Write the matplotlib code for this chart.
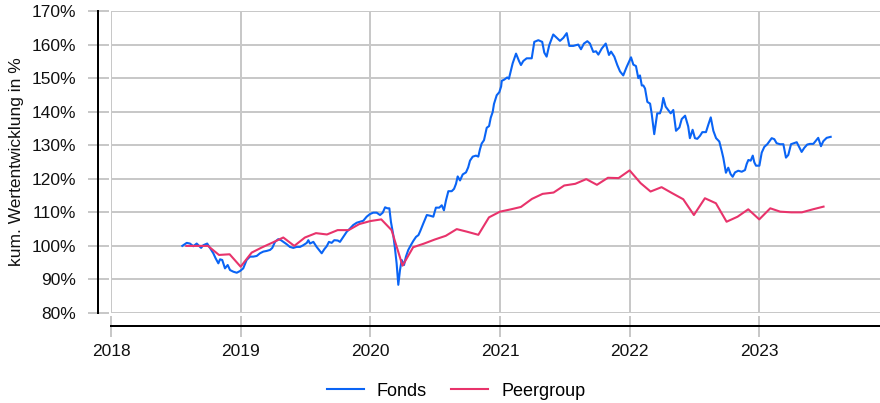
import matplotlib
matplotlib.use("Agg")
import matplotlib.pyplot as plt
import numpy as np
import pandas as pd

# Fonds: weekly-ish points, x in decimal years, values in %
fonds_t = [
    2018.550, 2018.584, 2018.609, 2018.635, 2018.661, 2018.679, 2018.695, 2018.712, 2018.742, 2018.763,
    2018.789, 2018.807, 2018.828, 2018.841, 2018.858, 2018.879, 2018.900, 2018.918, 2018.944, 2018.970,
    2018.995, 2019.020, 2019.046, 2019.072, 2019.097, 2019.124, 2019.149, 2019.175, 2019.201, 2019.227,
    2019.244, 2019.265, 2019.290, 2019.311, 2019.329, 2019.355, 2019.380, 2019.406, 2019.432, 2019.458,
    2019.483, 2019.510, 2019.522, 2019.535, 2019.561, 2019.586, 2019.604, 2019.625, 2019.645, 2019.664,
    2019.681, 2019.702, 2019.722, 2019.749,
    2019.766, 2019.792, 2019.818, 2019.844, 2019.868, 2019.895, 2019.920, 2019.946, 2019.972, 2019.998,
    2020.023, 2020.049, 2020.075, 2020.096, 2020.114, 2020.132, 2020.147, 2020.159, 2020.177, 2020.190,
    2020.203, 2020.216, 2020.229, 2020.242, 2020.260, 2020.275, 2020.293, 2020.314, 2020.332, 2020.353,
    2020.371,
    2020.384, 2020.409, 2020.436, 2020.460, 2020.486, 2020.506, 2020.532, 2020.551, 2020.568, 2020.584,
    2020.602, 2020.628, 2020.646, 2020.661, 2020.674, 2020.692, 2020.713, 2020.738, 2020.755, 2020.769,
    2020.790, 2020.815, 2020.833, 2020.846, 2020.859, 2020.877, 2020.898, 2020.916, 2020.929, 2020.944,
    2020.954, 2020.975, 2020.995, 2021.009, 2021.014, 2021.031, 2021.056, 2021.069,
    2021.098, 2021.124, 2021.147, 2021.162, 2021.180, 2021.206, 2021.245, 2021.265, 2021.296, 2021.326,
    2021.342, 2021.360, 2021.380, 2021.411, 2021.438, 2021.463, 2021.489, 2021.515, 2021.535, 2021.566,
    2021.604, 2021.625, 2021.648, 2021.674, 2021.694, 2021.720, 2021.741, 2021.759, 2021.785, 2021.816,
    2021.841, 2021.857, 2021.882, 2021.905,
    2021.926, 2021.951, 2021.977, 2022.011, 2022.029, 2022.049, 2022.067, 2022.080, 2022.094, 2022.106,
    2022.119, 2022.137, 2022.158, 2022.170, 2022.190, 2022.213, 2022.234, 2022.247, 2022.260, 2022.278,
    2022.298, 2022.317, 2022.337, 2022.358, 2022.384, 2022.402, 2022.428, 2022.452, 2022.465, 2022.486,
    2022.504, 2022.522, 2022.543, 2022.561, 2022.589, 2022.607, 2022.626, 2022.646, 2022.667, 2022.692,
    2022.711, 2022.723, 2022.743, 2022.761, 2022.779, 2022.795, 2022.813, 2022.838, 2022.865, 2022.890,
    2022.903, 2022.916, 2022.934, 2022.950, 2022.962, 2022.975, 2023.001, 2023.019, 2023.039, 2023.062,
    2023.077, 2023.096, 2023.116, 2023.134, 2023.160, 2023.186, 2023.206, 2023.224, 2023.245, 2023.268,
    2023.289, 2023.309, 2023.327, 2023.347, 2023.370, 2023.391, 2023.417, 2023.438, 2023.455, 2023.476,
    2023.494, 2023.520, 2023.551,
]
fonds_v = [
    100.0, 100.9, 100.7, 99.9, 100.7, 100.0, 99.4, 100.2, 100.7, 99.4,
    97.8, 96.3, 94.8, 96.0, 95.8, 93.3, 94.3, 92.8, 92.3, 92.0,
    92.5, 93.3, 95.8, 96.8, 96.8, 97.0, 97.8, 98.3, 98.5, 98.8,
    99.4, 101.2, 102.0, 101.7, 101.2, 100.5, 99.7, 99.4, 99.7, 99.7,
    100.2, 100.9, 101.7, 100.7, 101.2, 99.7, 98.8, 97.8, 99.0, 99.9,
    101.2, 100.9, 101.7, 101.6,
    101.2, 102.7, 104.2, 105.2, 106.2, 106.9, 107.2, 107.5, 108.7, 109.5,
    109.9, 109.9, 109.2, 109.9, 111.5, 111.2, 111.2, 107.2, 103.3, 99.3,
    94.8, 88.4, 92.8, 95.8, 94.3, 96.8, 98.8, 100.3, 101.5, 102.7,
    103.2,
    104.3, 106.7, 109.2, 109.0, 108.7, 111.4, 111.4, 112.1, 110.6, 113.6,
    116.3, 116.3, 117.0, 118.5, 120.7, 119.5, 121.3, 121.9, 123.4, 125.4,
    126.6, 126.9, 126.6, 128.8, 130.5, 131.5, 135.2, 135.7, 138.2, 139.9,
    142.3, 144.9, 145.8, 147.5, 149.2, 149.5, 150.2, 149.8,
    154.4, 157.3, 155.1, 153.9, 155.1, 155.9, 155.9, 160.8, 161.3, 160.8,
    157.6, 156.4, 159.8, 163.0, 162.0, 161.1, 162.0, 163.4, 159.6, 159.6,
    160.0, 158.6, 160.3, 161.0, 160.3, 157.8, 158.0, 157.0, 158.8, 160.3,
    156.9, 157.9, 156.4, 153.9,
    152.0, 150.8, 153.3, 156.2, 154.0, 153.6, 150.0, 150.8, 147.8, 147.8,
    146.9, 142.9, 142.4, 139.5, 133.3, 139.5, 139.5, 141.0, 144.1, 141.5,
    140.5, 139.5, 140.5, 134.3, 135.3, 137.8, 138.8, 135.6, 132.1, 134.6,
    132.1, 131.9, 132.8, 133.9, 133.9, 136.1, 138.3, 134.3, 132.1, 131.1,
    128.2, 126.2, 121.8, 123.3, 121.4, 120.6, 121.9, 122.4, 122.1, 122.6,
    124.4, 125.6, 125.4, 126.9, 124.9, 123.9, 123.9, 127.8, 129.5, 130.3,
    131.1, 132.1, 131.8, 130.6, 130.3, 130.3, 126.3, 127.1, 130.3, 130.6,
    130.9, 129.4, 128.0, 129.2, 130.2, 130.4, 130.4, 131.4, 132.2, 129.7,
    131.2, 132.2, 132.5,
]

# Peergroup: monthly values (month ends Jul 2018 .. Jun 2023), in %
peer_start = "2018-07-31"
peer_v = [
    100.0, 100.0, 100.0, 97.3, 97.5, 93.8,
    98.0, 99.5, 101.0, 102.5, 100.0, 102.5, 103.8, 103.4, 104.7, 104.7, 106.5, 107.4,
    107.9, 104.7, 94.1, 99.6, 100.7, 101.9, 103.0, 105.0, 104.2, 103.3, 108.5, 110.2,
    110.9, 111.6, 114.0, 115.5, 115.9, 118.0, 118.5, 119.9, 118.2, 120.3, 120.2, 122.5,
    118.7, 116.2, 117.5, 115.7, 113.9, 109.2, 114.2, 112.7, 107.2, 108.7, 110.9, 107.9,
    111.2, 110.2, 110.0, 110.0, 110.9, 111.7,
]

years = [2018, 2019, 2020, 2021, 2022, 2023]
y_ticks = [80, 90, 100, 110, 120, 130, 140, 150, 160, 170]
y_labels = ["80%", "90%", "100%", "110%", "120%", "130%", "140%", "150%", "160%", "170%"]

BLUE = "#0a64f5"
PINK = "#e8336b"
GRID = "#c8c8c8"


def decimal_year(dates):
    days = np.where(dates.is_leap_year, 366, 365)
    return dates.year + dates.dayofyear / days


def main():
    plt.rcParams['font.family'] = ['Liberation Sans', 'DejaVu Sans']
    fs = 12.5
    px = 72 / 100  # points per pixel at dpi 100

    peer_dates = pd.date_range(peer_start, periods=len(peer_v), freq="ME")
    peer_t = decimal_year(peer_dates)

    fig = plt.figure(figsize=(8.8, 4.03), dpi=100)
    ax = fig.add_axes([111 / 880, 1 - 313 / 403, 769 / 880, 302 / 403])

    l1, = ax.plot(fonds_t, fonds_v, color=BLUE, lw=1.5, label="Fonds", zorder=3)
    l2, = ax.plot(peer_t, peer_v, color=PINK, lw=1.5, label="Peergroup", zorder=3)

    ax.set_xlim(2018.0, 2018 + 769 / 129.65)
    ax.set_ylim(80, 170)
    ax.set_xticks(years)
    ax.set_xticklabels([str(y) for y in years])
    ax.set_yticks(y_ticks)
    ax.set_yticklabels(y_labels)

    ax.set_axisbelow(True)
    ax.grid(True, color=GRID, lw=2 * px)
    ax.yaxis.get_gridlines()[0].set_visible(False)
    ax.xaxis.get_gridlines()[0].set_visible(False)

    for s in ["top", "right"]:
        ax.spines[s].set_visible(False)
    for s in ["left", "bottom"]:
        ax.spines[s].set_position(("outward", 13 * px))
        ax.spines[s].set_linewidth(2 * px)
        ax.spines[s].set_color("black")

    ax.tick_params(direction="inout", length=21 * px, width=2 * px, color=GRID,
                   labelsize=fs, labelcolor="#111111")
    ax.tick_params(axis="y", pad=8)
    ax.tick_params(axis="x", pad=5.5)

    fig.text(17 / 880, 1 - 162 / 403, "kum. Wertentwicklung in %", rotation=90,
             ha="center", va="center", fontsize=fs, color="#111111")

    fig.legend(handles=[l1, l2], loc="center", bbox_to_anchor=(456 / 880, 1 - 391 / 403),
               ncol=2, frameon=False, fontsize=13, handlelength=2.05, handletextpad=0.72,
               columnspacing=1.33, borderaxespad=0, borderpad=0)

    fig.savefig("out.png", dpi=100)


if __name__ == "__main__":
    main()
